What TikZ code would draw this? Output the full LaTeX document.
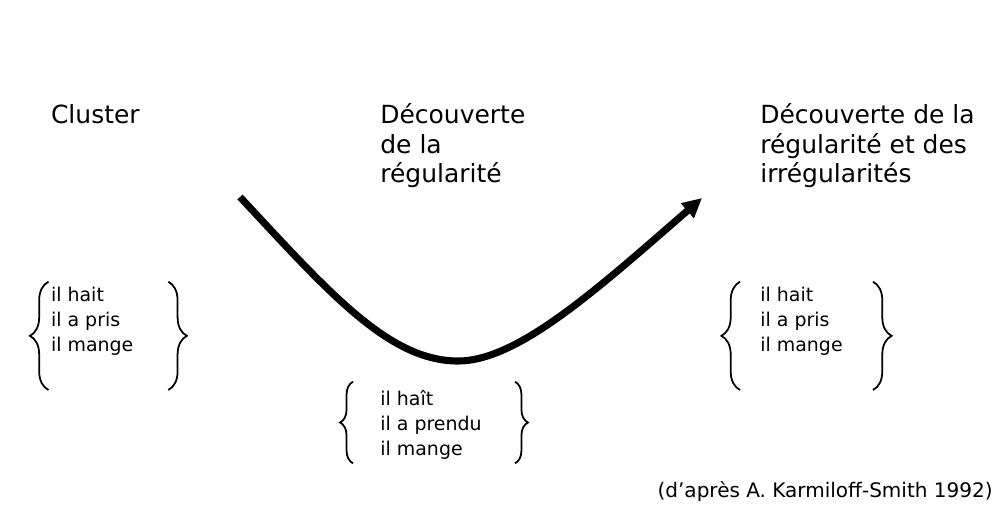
\documentclass[tikz,border=0pt]{standalone}
\usepackage{fontspec}
\setmainfont{DejaVu Sans}
\usetikzlibrary{positioning,arrows.meta,decorations.pathreplacing}

\begin{document}
\begin{tikzpicture}[auto,
        stage/.style={font=\fontsize{14.1}{16.9}\selectfont, align=left, inner sep=0pt, anchor=base west},
        forms/.style={font=\fontsize{10.7}{14.1}\selectfont, align=left, inner sep=0pt, anchor=base west},
        brace/.style={decorate, decoration={brace, amplitude=#1}, line width=1pt},
        brace/.default=10.5pt,
        curve/.style={line width=4pt, -{Triangle[length=11pt,width=10.5pt]}}
    ]
        \useasboundingbox (0,0) rectangle (20,10.159);

        % Stages (base = last line)
        \node [stage] (cluster) at (1.006,7.712) {Cluster};
        \node [stage] (regular) at (7.540,6.528) {Découverte\\de la\\régularité};
        \node [stage] (irregular) at (15.079,6.528) {Découverte de la\\régularité et des\\irrégularités};

        % Verb forms
        \node [forms] (forms1) at (1.006,3.181) {il hait\\il a pris\\il mange};
        \node [forms] (forms2) at (7.540,1.131) {il haît\\il a prendu\\il mange};
        \node [forms] (forms3) at (15.079,3.181) {il hait\\il a pris\\il mange};

        % Brace ends
        \coordinate (b1top) at (0.962,4.569);
        \coordinate (b1bot) at (0.962,2.421);
        \coordinate (e1top) at (3.339,4.569);
        \coordinate (e1bot) at (3.339,2.421);
        \coordinate (b2top) at (7.004,2.585);
        \coordinate (b2bot) at (7.004,0.966);
        \coordinate (e2top) at (10.218,2.585);
        \coordinate (e2bot) at (10.218,0.966);
        \coordinate (b3top) at (14.683,4.569);
        \coordinate (b3bot) at (14.683,2.421);
        \coordinate (e3top) at (17.321,4.569);
        \coordinate (e3bot) at (17.321,2.421);

        \draw [brace] (b1bot) -- (b1top);
        \draw [brace] (e1top) -- (e1bot);
        \draw [brace=7.3pt] (b2bot) -- (b2top);
        \draw [brace=7.3pt] (e2top) -- (e2bot);
        \draw [brace] (b3bot) -- (b3top);
        \draw [brace] (e3top) -- (e3bot);

        % U-shaped curve
        \coordinate (start) at (4.762,6.250);
        \coordinate (low) at (9.087,2.996);
        \coordinate (tip) at (13.929,6.230);

        \draw [curve] (start) to[out=-47, in=180, out looseness=1.22, in looseness=0.65] (low)
            to[out=0, in=-139, out looseness=0.52, in looseness=1.22] (tip);

        % Source
        \node [forms, anchor=base east, font=\fontsize{11.3}{14}\selectfont] (source) at (19.702,0.292) {(d’après A. Karmiloff-Smith 1992)};
    \end{tikzpicture}
\end{document}
